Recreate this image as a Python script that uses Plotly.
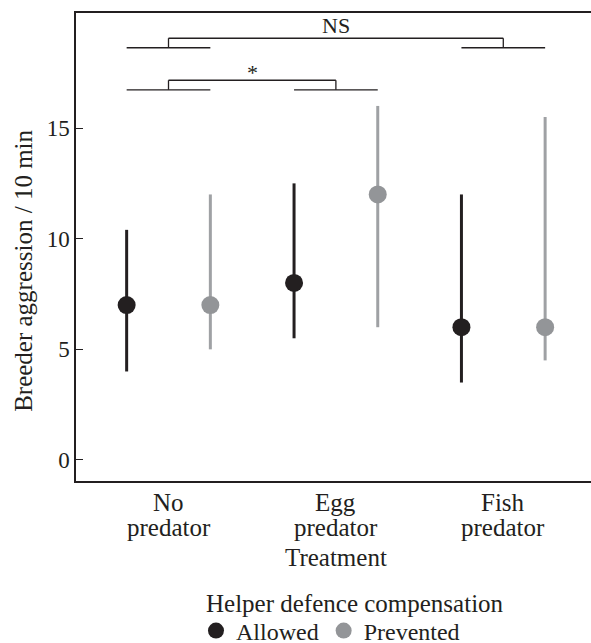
import plotly.graph_objects as go

# ---- data ----
treatments = ["No predator", "Egg predator", "Fish predator"]
groups = ["Allowed", "Prevented"]
means = {"Allowed": [7.0, 8.0, 6.0], "Prevented": [7.0, 12.0, 6.0]}
lower = {"Allowed": [4.0, 5.5, 3.5], "Prevented": [5.0, 6.0, 4.5]}
upper = {"Allowed": [10.4, 12.5, 12.0], "Prevented": [12.0, 16.0, 15.5]}
y_ticks = [0, 5, 10, 15]
# comparisons: (treatment A, treatment B, label, bracket top, bracket foot)
comparisons = [("No predator", "Fish predator", "NS", 19.06, 18.63),
               ("No predator", "Egg predator", "*", 17.16, 16.73)]

# ---- style ----
colors = {"Allowed": "#231f20", "Prevented": "#939598"}
err_colors = {"Allowed": "#231f20", "Prevented": "#9fa1a4"}
offsets = {"Allowed": -0.25, "Prevented": 0.25}
label_shift = {"NS": -2, "*": -7}
FONT = "Liberation Serif"
DARK = "#231f20"

centers = {t: i + 1 for i, t in enumerate(treatments)}

fig = go.Figure()
for g in groups:
    xs = [centers[t] + offsets[g] for t in treatments]
    fig.add_trace(go.Scatter(
        x=xs, y=means[g], mode="markers", name=g,
        marker=dict(size=18, color=colors[g]),
        error_y=dict(type="data", symmetric=False,
                     array=[u - m for u, m in zip(upper[g], means[g])],
                     arrayminus=[m - l for m, l in zip(means[g], lower[g])],
                     color=err_colors[g], thickness=3, width=0),
        showlegend=True,
    ))

line = dict(color=DARK, width=1.3)
for a, b, lab, top, foot in comparisons:
    for t in (a, b):
        c = centers[t]
        fig.add_shape(type="line", xref="x", yref="y",
                      x0=c + offsets["Allowed"], x1=c + offsets["Prevented"],
                      y0=foot, y1=foot, line=line)
        fig.add_shape(type="line", xref="x", yref="y",
                      x0=c, x1=c, y0=foot, y1=top, line=line)
    fig.add_shape(type="line", xref="x", yref="y",
                  x0=centers[a], x1=centers[b], y0=top, y1=top, line=line)
    fig.add_annotation(x=(centers[a] + centers[b]) / 2, y=top, xref="x", yref="y",
                       text=lab, showarrow=False, yanchor="bottom",
                       yshift=label_shift[lab],
                       font=dict(family=FONT, size=22, color=DARK))

# category labels (two lines each, tight line spacing)
for t in treatments:
    first, second = t.split(" ", 1)
    fig.add_annotation(text=first, x=centers[t], xref="x", yref="paper", y=-0.0449,
                       showarrow=False, xanchor="center", yanchor="middle",
                       font=dict(family=FONT, size=25, color=DARK))
    fig.add_annotation(text=second, x=centers[t], xref="x", yref="paper", y=-0.0983,
                       showarrow=False, xanchor="center", yanchor="middle",
                       font=dict(family=FONT, size=25, color=DARK))

fig.add_annotation(text="Treatment", x=centers["Egg predator"], xref="x",
                   yref="paper", y=-0.1624, showarrow=False,
                   xanchor="center", yanchor="middle",
                   font=dict(family=FONT, size=25, color=DARK))
fig.add_annotation(text="Breeder aggression / 10 min", textangle=-90,
                   xref="paper", yref="paper", x=-0.101, y=0.449,
                   xanchor="center", yanchor="middle", showarrow=False,
                   font=dict(family=FONT, size=25, color=DARK))
fig.add_annotation(text="Helper defence compensation",
                   xref="paper", yref="paper", x=0.5417, y=-0.261,
                   xanchor="center", yanchor="middle", showarrow=False,
                   font=dict(family=FONT, size=25, color=DARK))

fig.update_layout(
    width=591, height=643,
    margin=dict(l=76, r=0, t=13, b=162, autoexpand=False),
    plot_bgcolor="white", paper_bgcolor="white",
    font=dict(family=FONT, size=22, color=DARK),
    showlegend=True,
    legend=dict(orientation="h", x=0.233, y=-0.3205, xanchor="left",
                yanchor="middle", bgcolor="rgba(0,0,0,0)",
                font=dict(family=FONT, size=24, color=DARK),
                itemsizing="trace", tracegroupgap=0),
    xaxis=dict(range=[0.4474, 3.524], tickvals=list(centers.values()),
               showticklabels=False,
               showgrid=False, zeroline=False, showline=True, linecolor=DARK,
               linewidth=1.5, mirror=True, ticks="", automargin=False),
    yaxis=dict(range=[-0.95, 20.2], tickvals=y_ticks, automargin=False,
               showgrid=False, zeroline=False, showline=True, linecolor=DARK,
               linewidth=1.5, ticks="inside", ticklen=7, tickcolor=DARK,
               tickwidth=1.3, tickfont=dict(family=FONT, size=23, color=DARK)),
)

fig.write_html("out.html",
               config={"displayModeBar": False},
               post_script="document.body.style.margin='0';"
                           "document.body.style.overflow='hidden';")
